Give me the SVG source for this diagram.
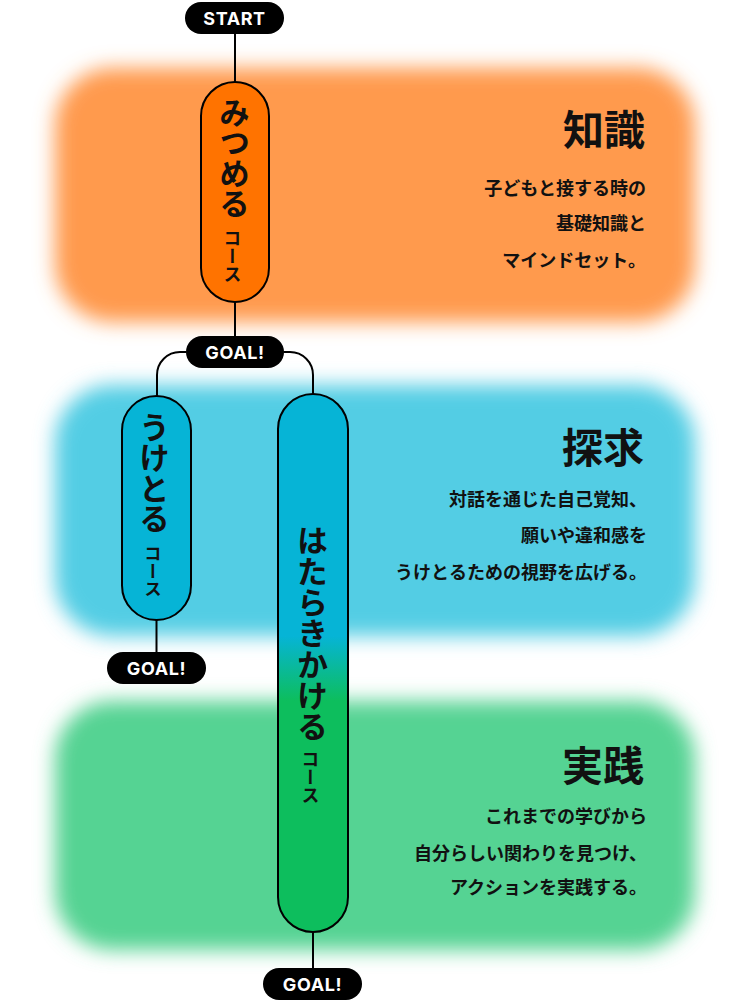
<svg xmlns="http://www.w3.org/2000/svg" width="750" height="1005" viewBox="0 0 750 1005">
<style>
.jp{font-family:"Noto Sans CJK JP","Noto Sans",sans-serif;fill:#111}
.title{font-size:41px;font-weight:700;text-anchor:end}
.body{font-size:18px;font-weight:700;text-anchor:end}
.vt{writing-mode:vertical-rl;font-weight:700;dominant-baseline:central}
.tag rect{fill:#000}
.tag text{font-family:Inter,"Liberation Sans",sans-serif;font-weight:700;font-size:18px;letter-spacing:0.6px;fill:#fff;text-anchor:middle}
.pill{stroke:#000;stroke-width:2}
#connectors path{fill:none;stroke:#000;stroke-width:2}
</style>
<defs>
<filter id="blur" x="-20%" y="-40%" width="140%" height="180%"><feGaussianBlur stdDeviation="10"/></filter>
<linearGradient id="hg" x1="0" y1="0" x2="0" y2="1">
<stop offset="0.45" stop-color="#06B4D6"/>
<stop offset="0.57" stop-color="#0DBE5D"/>
</linearGradient>
</defs>
<rect width="750" height="1005" fill="#fff"/>
<g id="bands" filter="url(#blur)">
<rect x="55" y="68" width="640" height="254" rx="58" fill="#FF9A4E"/>
<rect x="55" y="385" width="640" height="251" rx="58" fill="#52CDE4"/>
<rect x="55" y="701" width="640" height="249" rx="58" fill="#55D393"/>
</g>
<g id="connectors">
<path d="M235,34 V82"/>
<path d="M235,302 V336"/>
<path d="M186,352 h-6 a23,23 0 0 0 -23,23 V396"/>
<path d="M284,352 h6 a23,23 0 0 1 23,23 V394"/>
<path d="M156.5,620 V652"/>
<path d="M313,932 V968"/>
</g>
<g id="start" class="tag"><rect x="185" y="2" width="99" height="32" rx="16"/><text x="234.5" y="24.5">START</text></g>
<g id="goal1" class="tag"><rect x="186" y="336" width="98" height="32" rx="16"/><text x="235" y="358.5">GOAL!</text></g>
<g id="goal2" class="tag"><rect x="107" y="652" width="99" height="32" rx="16"/><text x="156.5" y="674.5">GOAL!</text></g>
<g id="goal3" class="tag"><rect x="263" y="968" width="99" height="32" rx="16"/><text x="312.5" y="990.5">GOAL!</text></g>
<g id="mitsumeru">
<rect class="pill" x="201" y="82" width="68" height="220" rx="34" fill="#FF7300"/>
<text class="jp vt" x="234.5" y="97" font-size="30.5">みつめる</text>
<text class="jp vt" x="232.5" y="229" font-size="18">コース</text>
</g>
<g id="uketoru">
<rect class="pill" x="122" y="396" width="69" height="224" rx="34.5" fill="#06B4D6"/>
<text class="jp vt" x="154.5" y="412" font-size="30.5">うけとる</text>
<text class="jp vt" x="153" y="545" font-size="17.5">コース</text>
</g>
<g id="hatarakikakeru">
<rect class="pill" x="278" y="394" width="70" height="538" rx="35" fill="url(#hg)"/>
<text class="jp vt" x="312.5" y="525" font-size="31">はたらきかける</text>
<text class="jp vt" x="310.5" y="750" font-size="18">コース</text>
</g>
<g id="chishiki">
<text class="jp title" x="645" y="145">知識</text>
<text class="jp body" x="646" y="195">子どもと接する時の</text>
<text class="jp body" x="646" y="230">基礎知識と</text>
<text class="jp body" x="646" y="267">マインドセット。</text>
</g>
<g id="tankyu">
<text class="jp title" x="644" y="463">探求</text>
<text class="jp body" x="647" y="506">対話を通じた自己覚知、</text>
<text class="jp body" x="647" y="542">願いや違和感を</text>
<text class="jp body" x="647" y="579">うけとるための視野を広げる。</text>
</g>
<g id="jissen">
<text class="jp title" x="644" y="781">実践</text>
<text class="jp body" x="647" y="823">これまでの学びから</text>
<text class="jp body" x="647" y="860">自分らしい関わりを見つけ、</text>
<text class="jp body" x="647" y="894">アクションを実践する。</text>
</g>
</svg>
